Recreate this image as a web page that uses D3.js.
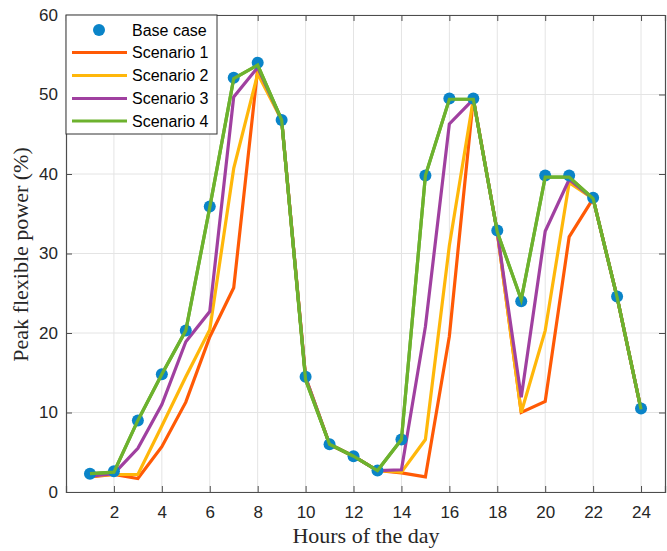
<!DOCTYPE html>
<html><head><meta charset="utf-8">
<script src="https://cdn.jsdelivr.net/npm/d3@7"></script>
<style>body{margin:0;background:#fff;} svg{display:block;}</style>
</head><body>
<svg id="chart" width="667" height="551"></svg>
<script>
const hours = [1,2,3,4,5,6,7,8,9,10,11,12,13,14,15,16,17,18,19,20,21,22,23,24];
const baseCase  = [2.3,2.6,9.0,14.8,20.3,35.9,52.1,54.0,46.8,14.5,6.0,4.5,2.7,6.6,39.8,49.5,49.5,32.9,24.0,39.8,39.8,37.0,24.6,10.5];
const scenario1 = [1.9,2.2,1.7,5.7,11.3,19.5,25.7,53.2,46.8,14.4,6.0,4.5,2.7,2.4,1.9,19.6,49.5,32.7,10.0,11.4,32.1,36.9,24.5,10.4];
const scenario2 = [2.0,2.2,2.2,8.3,14.5,20.4,40.7,52.6,46.8,14.4,6.0,4.5,2.7,2.5,6.6,31.0,49.4,32.7,10.0,20.3,38.9,36.9,24.5,10.4];
const scenario3 = [2.0,2.3,5.5,11.0,18.9,22.7,49.7,53.4,46.8,14.4,6.0,4.5,2.7,2.8,20.8,46.3,49.4,32.7,11.9,32.8,39.3,36.9,24.5,10.4];
const scenario4 = [2.3,2.5,9.0,14.8,20.3,35.8,52.0,53.7,46.8,14.1,6.0,4.5,2.7,6.6,39.8,49.4,49.4,32.7,24.2,39.6,39.6,36.9,24.5,10.4];
const seriesNames = ["Scenario 1","Scenario 2","Scenario 3","Scenario 4"];
const seriesColors = ["#FF5A05","#FFB70A","#A040A0","#6DB22E"];
const xTicks = [2,4,6,8,10,12,14,16,18,20,22,24];
const yTicks = [0,10,20,30,40,50,60];

const svg = d3.select("#chart");
const L = 66, R = 665, T = 15, B = 492;
const x = d3.scaleLinear().domain([0,25]).range([L,R]);
const y = d3.scaleLinear().domain([0,60]).range([B,T]);

// grid
const g = svg.append("g");
g.selectAll(".gx").data(xTicks).enter().append("line")
  .attr("x1",d=>x(d)).attr("x2",d=>x(d)).attr("y1",T).attr("y2",B)
  .attr("stroke","#e4e4e4").attr("stroke-width",1);
g.selectAll(".gy").data(yTicks).enter().append("line")
  .attr("y1",d=>y(d)).attr("y2",d=>y(d)).attr("x1",L).attr("x2",R)
  .attr("stroke","#e4e4e4").attr("stroke-width",1);

// axes
const fontTick = "Liberation Sans, Arial, sans-serif";
const xAxis = svg.append("g").attr("transform",`translate(0,${B})`)
  .call(d3.axisBottom(x).tickValues(xTicks).tickSize(-6).tickPadding(14));
const xTop = svg.append("g").attr("transform",`translate(0,${T})`)
  .call(d3.axisTop(x).tickValues(xTicks).tickSize(-6).tickFormat(""));
const yAxis = svg.append("g").attr("transform",`translate(${L},0)`)
  .call(d3.axisLeft(y).tickValues(yTicks).tickSize(-6).tickPadding(8));
const yRight = svg.append("g").attr("transform",`translate(${R},0)`)
  .call(d3.axisRight(y).tickValues(yTicks).tickSize(-6).tickFormat(""));
[xAxis,xTop,yAxis,yRight].forEach(a=>{
  a.selectAll("path").attr("stroke","#4d4d4d").attr("stroke-width",1.2);
  a.selectAll("line").attr("stroke","#4d4d4d");
  a.selectAll("text").attr("fill","#262626").style("font-family",fontTick).style("font-size","17px");
});

// lines
const line = d3.line().x((d,i)=>x(hours[i])).y(d=>y(d));
const allSeries = [scenario1,scenario2,scenario3,scenario4];
allSeries.forEach((s,i)=>{
  svg.append("path").datum(s).attr("d",line)
    .attr("fill","none").attr("stroke",seriesColors[i]).attr("stroke-width",3.2)
    .attr("stroke-linejoin","miter");
});
svg.selectAll(".dot").data(baseCase).enter().append("circle")
  .attr("cx",(d,i)=>x(hours[i])).attr("cy",d=>y(d)).attr("r",6)
  .attr("fill","#0A84C8");
// scenario 4 over the dots
svg.append("path").datum(scenario4).attr("d",line)
  .attr("fill","none").attr("stroke",seriesColors[3]).attr("stroke-width",3.2);

// legend
const lg = svg.append("g");
lg.append("rect").attr("x",L).attr("y",T).attr("width",151).attr("height",119)
  .attr("fill","#fff").attr("stroke","#333").attr("stroke-width",1);
const legendY = [30,52.5,75.5,98.5,121];
const legendFont = "16px";
lg.append("circle").attr("cx",99).attr("cy",legendY[0]).attr("r",6).attr("fill","#0A84C8");
lg.append("text").attr("x",132).attr("y",legendY[0]).attr("dy","0.36em").text("Base case")
  .style("font-family",fontTick).style("font-size",legendFont).attr("fill","#000");
seriesNames.forEach((n,i)=>{
  lg.append("line").attr("x1",72).attr("x2",127).attr("y1",legendY[i+1]).attr("y2",legendY[i+1])
    .attr("stroke",seriesColors[i]).attr("stroke-width",3.2);
  lg.append("text").attr("x",132).attr("y",legendY[i+1]).attr("dy","0.36em").text(n)
    .style("font-family",fontTick).style("font-size",legendFont).attr("fill","#000");
});

// axis titles
svg.append("text").attr("x",366).attr("y",543).attr("text-anchor","middle")
  .text("Hours of the day").style("font-family","Liberation Serif, Times New Roman, serif")
  .style("font-size","22px").attr("fill","#262626");
svg.append("text").attr("transform",`translate(28,${(T+B)/2 + 1}) rotate(-90)`).attr("text-anchor","middle")
  .text("Peak flexible power (%)").style("font-family","Liberation Serif, Times New Roman, serif")
  .style("font-size","22px").attr("fill","#262626");
</script>
</body></html>
